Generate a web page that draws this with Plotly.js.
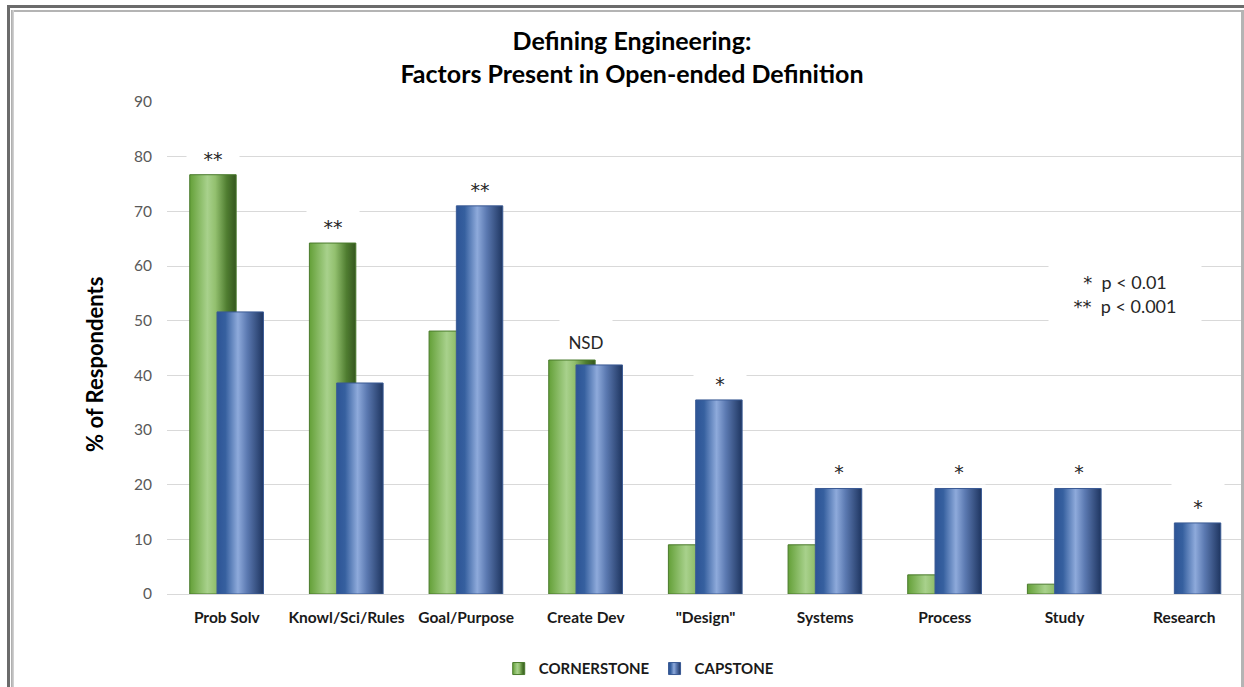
<!DOCTYPE html>
<html>
<head>
<meta charset="utf-8">
<script src="https://cdn.plot.ly/plotly-3.0.1.min.js"></script>
<style>
  html, body { margin: 0; padding: 0; background: #ffffff; }
  #wrap { position: relative; width: 1244px; height: 687px; overflow: hidden; }
  #chart { position: absolute; left: 0; top: 0; width: 1244px; height: 687px; }
  .frame { position: absolute; pointer-events: none; }
</style>
</head>
<body>
<div id="wrap">
  <div id="chart"></div>
  <!-- double picture frame around the chart -->
  <div class="frame" style="left:7px; top:5px; width:1237px; height:3px; background:#6b6b6b;"></div>
  <div class="frame" style="left:7px; top:5px; width:3px; height:682px; background:#6b6b6b;"></div>
  <div class="frame" style="left:11px; top:10px; width:1233px; height:2px; background:#b4b4b4;"></div>
  <div class="frame" style="left:11px; top:10px; width:3px; height:677px; background:linear-gradient(to right,#a8a8a8,#d8d8d8);"></div>
  <div class="frame" style="left:1241px; top:10px; width:3px; height:677px; background:#b4b4b4;"></div>
</div>
<script>
// Share of respondents naming each factor in their own definition of engineering
const categories = ["Prob Solv", "Knowl/Sci/Rules", "Goal/Purpose", "Create Dev", "\"Design\"",
                    "Systems", "Process", "Study", "Research"];
const cornerstone = [76.7, 64.2, 48.1, 42.8, 9.0, 9.0, 3.5, 1.8, 0];
const capstone    = [51.6, 38.6, 71.0, 41.9, 35.5, 19.3, 19.3, 19.3, 13.0];
// significance marker per factor and the bar it sits over
const sigLabels = ["**", "**", "**", "NSD", "*", "*", "*", "*", "*"];
const sigOver   = ["CORNERSTONE", "CORNERSTONE", "CAPSTONE", "BOTH", "CAPSTONE",
                   "CAPSTONE", "CAPSTONE", "CAPSTONE", "CAPSTONE"];
const seriesNames = ["CORNERSTONE", "CAPSTONE"];
const keyMarks = ["*", "**"];
const keyText  = ["p < 0.01", "p < 0.001"];

const FONT = "Lato, 'Open Sans', sans-serif";
const STAR_FONT = "'DejaVu Sans', sans-serif";
const BAR_W = 0.388;

const traces = [
  {
    type: "bar", name: seriesNames[0], x: categories, y: cornerstone,
    width: BAR_W, offset: -0.31,
    marker: { color: "#79ad52",
              line: { color: "#4a7a2c", width: cornerstone.map(v => (v > 0 ? 1 : 0)) } },
    hoverinfo: "x+y"
  },
  {
    type: "bar", name: seriesNames[1], x: categories, y: capstone,
    width: BAR_W, offset: -0.082,
    marker: { color: "#4a6fb0",
              line: { color: "#3a5a94", width: capstone.map(v => (v > 0 ? 1 : 0)) } },
    hoverinfo: "x+y"
  }
];

const annotations = categories.map((c, i) => {
  const isStar = sigLabels[i] !== "NSD";
  const top = Math.max(cornerstone[i], capstone[i]);
  const shiftX = sigOver[i] === "CORNERSTONE" ? -14 : (sigOver[i] === "CAPSTONE" ? 14 : 0);
  return {
    x: c, y: top, xref: "x", yref: "y",
    text: sigLabels[i], showarrow: false,
    xanchor: "center", yanchor: "bottom", xshift: shiftX, yshift: isStar ? 3 : 5,
    width: 50, height: 34, valign: "bottom", borderpad: 1,
    bgcolor: "#ffffff",
    font: { family: isStar ? STAR_FONT : FONT, size: isStar ? 19 : 17, color: "#262626" }
  };
});

// key for the significance markers
annotations.push({
  x: 0.8895, y: 54.8, xref: "paper", yref: "y",
  text: keyMarks.map((m, i) =>
    "<span style=\"font-family:'DejaVu Sans'\">" + m + "</span>  " + keyText[i]).join("<br>"),
  showarrow: false,
  xanchor: "center", yanchor: "middle", align: "center",
  width: 150, height: 60, bgcolor: "#ffffff",
  font: { family: FONT, size: 18, color: "#262626" }
});

// value-axis title
annotations.push({
  x: -0.0669, y: 0.4675, xref: "paper", yref: "paper",
  text: "% of Respondents", textangle: -90, showarrow: false,
  xanchor: "center", yanchor: "middle",
  font: { family: FONT, size: 22, color: "#000000", weight: "bold" }
});

const layout = {
  width: 1244, height: 687,
  margin: { l: 167, r: 0, t: 102, b: 93 },
  paper_bgcolor: "#ffffff", plot_bgcolor: "#ffffff",
  barmode: "overlay",
  showlegend: true,
  font: { family: FONT, color: "#262626" },
  title: {
    text: "Defining Engineering:<br>Factors Present in Open-ended Definition",
    x: 0.508, xanchor: "center", y: 0.927, yanchor: "top",
    font: { family: FONT, size: 25, color: "#000000", weight: "bold" }
  },
  xaxis: {
    type: "category", range: [-0.5, 8.5], fixedrange: true,
    showgrid: false, zeroline: false, showline: false, ticks: "",
    ticklabelstandoff: 12,
    tickfont: { family: FONT, size: 15.5, color: "#1a1a1a", weight: "bold" }
  },
  yaxis: {
    range: [0, 90], dtick: 10, tick0: 0, fixedrange: true,
    showgrid: true, gridcolor: "#d9d9d9", gridwidth: 1,
    zeroline: true, zerolinecolor: "#d9d9d9", zerolinewidth: 1,
    showline: false, ticks: "", ticklabelstandoff: 14,
    tickfont: { family: FONT, size: 15.5, color: "#595959" }
  },
  legend: {
    orientation: "h", x: 0.438, xanchor: "center", y: -0.152, yanchor: "middle",
    font: { family: FONT, size: 15, color: "#1a1a1a", weight: "bold" },
    itemwidth: 30, tracegroupgap: 0
  },
  annotations: annotations
};

// cylinder-style shading across each bar, left to right
const gradients = {
  gradCorner: [["0%", "#64a038"], ["38%", "#a8d18c"], ["55%", "#93c06f"], ["80%", "#4f7d30"], ["100%", "#35561f"]],
  gradCap:    [["0%", "#2d5496"], ["18%", "#36609f"], ["45%", "#8eaadb"], ["65%", "#5b79b1"], ["100%", "#1e3560"]]
};

function addShading(gd) {
  const svg = gd.querySelector("svg.main-svg");
  const NS = "http://www.w3.org/2000/svg";
  let defs = svg.querySelector("defs");
  if (!defs) { defs = document.createElementNS(NS, "defs"); svg.insertBefore(defs, svg.firstChild); }
  Object.keys(gradients).forEach(id => {
    const lg = document.createElementNS(NS, "linearGradient");
    lg.setAttribute("id", id);
    lg.setAttribute("x1", "0"); lg.setAttribute("y1", "0");
    lg.setAttribute("x2", "1"); lg.setAttribute("y2", "0");
    gradients[id].forEach(([off, col]) => {
      const st = document.createElementNS(NS, "stop");
      st.setAttribute("offset", off);
      st.setAttribute("stop-color", col);
      lg.appendChild(st);
    });
    defs.appendChild(lg);
  });
  const ids = ["gradCorner", "gradCap"];
  gd.querySelectorAll(".barlayer .trace").forEach((t, i) => {
    t.querySelectorAll("path").forEach(p => { p.style.fill = "url(#" + ids[i] + ")"; });
  });
  gd.querySelectorAll(".legend .traces").forEach((t, i) => {
    t.querySelectorAll(".legendpoints path").forEach(p => { p.style.fill = "url(#" + ids[i] + ")"; });
  });
}

Plotly.newPlot("chart", traces, layout, { displayModeBar: false, staticPlot: true })
  .then(addShading);
</script>
</body>
</html>
